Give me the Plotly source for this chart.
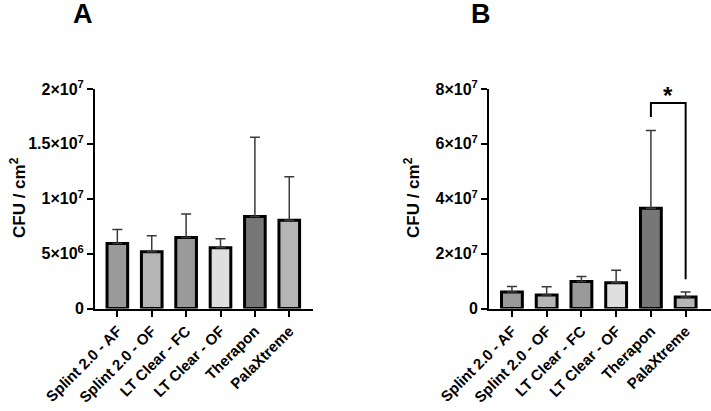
import plotly.graph_objects as go

categories = ["Splint 2.0 - AF", "Splint 2.0 - OF", "LT Clear - FC",
              "LT Clear - OF", "Therapon", "PalaXtreme"]
bar_colors = ["#9a9a9a", "#b5b5b5", "#9a9a9a", "#dfdfdf", "#777777", "#b5b5b5"]

mean_a = [5.93e6, 5.16e6, 6.47e6, 5.53e6, 8.39e6, 8.05e6]
sd_a = [1.27e6, 1.46e6, 2.13e6, 0.82e6, 7.21e6, 3.95e6]

mean_b = [6.0e6, 4.9e6, 9.8e6, 9.4e6, 3.65e7, 4.2e6]
sd_b = [2.0e6, 3.0e6, 1.9e6, 4.5e6, 2.84e7, 1.8e6]

ytick_vals_a = [0, 5e6, 1e7, 1.5e7, 2e7]
ytick_text_a = ["0", "5×10<sup>6</sup>", "1×10<sup>7</sup>", "1.5×10<sup>7</sup>", "2×10<sup>7</sup>"]
ytick_vals_b = [0, 2e7, 4e7, 6e7, 8e7]
ytick_text_b = ["0", "2×10<sup>7</sup>", "4×10<sup>7</sup>", "6×10<sup>7</sup>", "8×10<sup>7</sup>"]

# significance bracket (Therapon vs PalaXtreme in panel B)
sig_x = [categories[4], categories[4], categories[5], categories[5]]
sig_y = [6.98e7, 7.49e7, 7.49e7, 1.07e7]

W, H = 711, 411
FONT = "Liberation Sans, Arial, sans-serif"

def bold(s):
    return "<b>" + s + "</b>"

fig = go.Figure()

def add_bars(mean, sd, xa, ya):
    fig.add_trace(go.Bar(
        x=categories, y=mean, xaxis=xa, yaxis=ya, width=0.6,
        marker=dict(color=bar_colors, line=dict(color="black", width=3)),
        error_y=dict(type="data", symmetric=False, array=sd,
                     arrayminus=[0] * len(sd), color="#3a3a3a",
                     thickness=1.5, width=5),
        showlegend=False, hoverinfo="skip"))

add_bars(mean_a, sd_a, "x", "y")
add_bars(mean_b, sd_b, "x2", "y2")

fig.add_trace(go.Scatter(x=sig_x, y=sig_y, xaxis="x2", yaxis="y2", mode="lines",
                         line=dict(color="black", width=2), showlegend=False,
                         hoverinfo="skip", cliponaxis=False))

def px_x(p):
    return p / W

def px_y(p):
    return (H - p) / H

ydom = [px_y(308.5), px_y(89)]
xtickfont = dict(family=FONT, size=15, color="black")
ytickfont = dict(family=FONT, size=16, color="black")
common_x = dict(type="category", showline=True, linecolor="black", linewidth=2,
                ticks="outside", ticklen=6, tickwidth=2, tickcolor="black",
                tickangle=-45, tickfont=xtickfont, showgrid=False, zeroline=False,
                automargin=False, fixedrange=True,
                tickvals=categories, ticktext=[bold(c) for c in categories])
common_y = dict(showline=True, linecolor="black", linewidth=2, ticks="outside",
                ticklen=6, tickwidth=2, tickcolor="black", tickfont=ytickfont,
                showgrid=False, zeroline=False, automargin=False, domain=ydom)

fig.update_layout(
    width=W, height=H, margin=dict(l=0, r=0, t=0, b=0),
    paper_bgcolor="white", plot_bgcolor="white", bargap=0.4,
    xaxis=dict(common_x, domain=[px_x(95), px_x(313)], range=[-0.65, 5.69], anchor="y"),
    yaxis=dict(common_y, range=[0, 2e7], tickvals=ytick_vals_a,
               ticktext=[bold(t) for t in ytick_text_a], anchor="x"),
    xaxis2=dict(common_x, domain=[px_x(489), px_x(711)], range=[-0.66, 5.73], anchor="y2"),
    yaxis2=dict(common_y, range=[0, 8e7], tickvals=ytick_vals_b,
                ticktext=[bold(t) for t in ytick_text_b], anchor="x2"),
)

title_font = dict(family=FONT, size=17, color="black")
letter_font = dict(family=FONT, size=27, color="black")
ann = [
    dict(text=bold("CFU / cm<sup>2</sup>"), x=px_x(18), y=px_y(198), textangle=-90, font=title_font),
    dict(text=bold("CFU / cm<sup>2</sup>"), x=px_x(412), y=px_y(198), textangle=-90, font=title_font),
    dict(text=bold("A"), x=px_x(83), y=px_y(14), font=letter_font),
    dict(text=bold("B"), x=px_x(481), y=px_y(14), font=letter_font),
]
for a in ann:
    fig.add_annotation(xref="paper", yref="paper", showarrow=False,
                       xanchor="center", yanchor="middle", **a)

fig.add_annotation(text=bold("*"), x=4.5, y=7.75e7, xref="x2", yref="y2", showarrow=False,
                   xanchor="center", yanchor="middle",
                   font=dict(family=FONT, size=24, color="black"))

fig.write_html("out.html")
